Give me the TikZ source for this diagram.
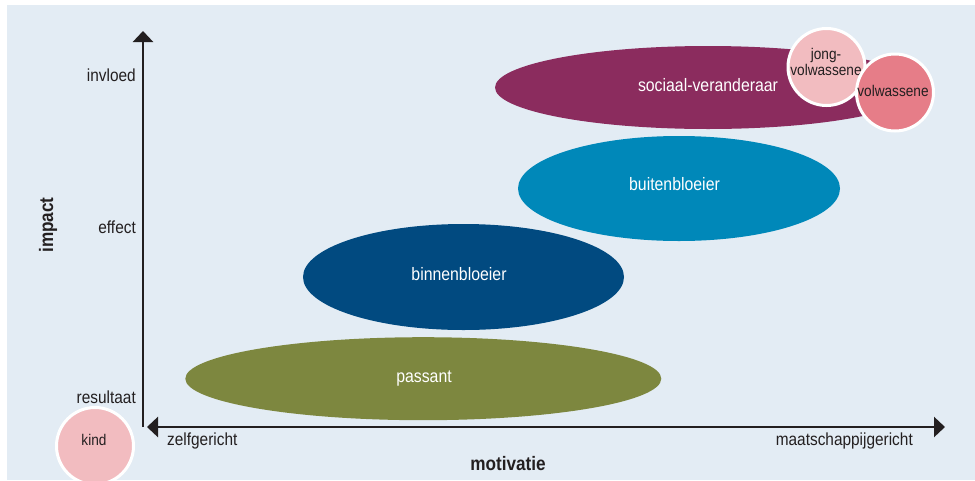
\documentclass[tikz,border=0pt]{standalone}
\usepackage{fontspec}
\setmainfont{Liberation Sans}[FakeStretch=0.88]
\usetikzlibrary{arrows.meta,shapes.geometric}
\definecolor{bgblue}{HTML}{E3ECF4}
\definecolor{svpurple}{HTML}{8B2C5E}
\definecolor{bbblue}{HTML}{0088B9}
\definecolor{bnblue}{HTML}{014A80}
\definecolor{psolive}{HTML}{7D873F}
\definecolor{pinklight}{HTML}{F2BCC0}
\definecolor{pinkdark}{HTML}{E67D88}
\definecolor{darktext}{HTML}{231F20}
\begin{document}
\begin{tikzpicture}[x=1pt,y=-1pt,
  ell/.style={ellipse, inner sep=0pt, draw=none},
  elltext/.style={text=white, inner sep=0pt, anchor=base, font=\fontsize{18}{20}\selectfont},
  agegroup/.style={circle, draw=white, line width=3pt, minimum size=77pt, inner sep=0pt},
  agetext/.style={text=darktext, inner sep=0pt, font=\fontsize{15.5}{13}\selectfont},
  ticklabel/.style={text=darktext, inner sep=0pt, anchor=base east, font=\fontsize{17.5}{19}\selectfont},
  endlabel/.style={text=darktext, inner sep=0pt, font=\fontsize{17.5}{19}\selectfont},
  axistitle/.style={text=darktext, inner sep=0pt, font=\bfseries\fontsize{19.5}{21}\selectfont},
  axisline/.style={draw=darktext, line width=2.6pt},
  tip/.style={-{Triangle[length=11pt,width=20pt]}}
]
\useasboundingbox (0,0) rectangle (975,480);
\clip (0,0) rectangle (975,480);
\fill[bgblue] (7,5) rectangle (975,480);

% ellipses
\node[ell, fill=psolive, minimum width=476pt, minimum height=83pt] (passant) at (423.3,378.7) {};
\node[elltext] at (424,382.7) {passant};
\node[ell, fill=bnblue, minimum width=321pt, minimum height=106pt] (binnen) at (463.5,277) {};
\node[elltext] at (459,280) {binnenbloeier};
\node[ell, fill=bbblue, minimum width=322pt, minimum height=105pt] (buiten) at (679,188.5) {};
\node[elltext] at (674.5,190) {buitenbloeier};
\node[ell, fill=svpurple, minimum width=426pt, minimum height=83pt] (sociaal) at (708,87.5) {};
\node[elltext] at (708,91) {sociaal-veranderaar};

% axes
\coordinate (origin) at (143,427);
\coordinate (ytop) at (143,31);
\coordinate (xleft) at (147,427);
\coordinate (xright) at (945,427);
\draw[axisline, tip] (origin) -- (ytop);
\draw[axisline, {Triangle[length=11pt,width=20pt]}-{Triangle[length=11pt,width=20pt]}] (xleft) -- (xright);

% axis labels
\node[ticklabel] (invloed) at (136,81) {invloed};
\node[ticklabel] (effect) at (136,233) {effect};
\node[ticklabel] (resultaat) at (136,403) {resultaat};
\node[endlabel, anchor=base west] (zelf) at (167,445) {zelfgericht};
\node[endlabel, anchor=base east] (maat) at (913,445) {maatschappijgericht};
\node[axistitle, anchor=base] (motivatie) at (508,470) {motivatie};
\node[axistitle, rotate=90, anchor=base] (impact) at (53,225) {impact};

% age circles
\node[agegroup, fill=pinklight] (jong) at (826.5,67) {};
\node[agetext, align=center] (jongtext) at (826,62) {jong-\\volwassene};
\node[agegroup, fill=pinkdark] (volw) at (895,92.5) {};
\node[agetext, anchor=base] (volwtext) at (893,96) {volwassene};
\node[agegroup, fill=pinklight] (kind) at (95,446) {};
\node[agetext, anchor=base] (kindtext) at (94,445) {kind};
\end{tikzpicture}
\end{document}
